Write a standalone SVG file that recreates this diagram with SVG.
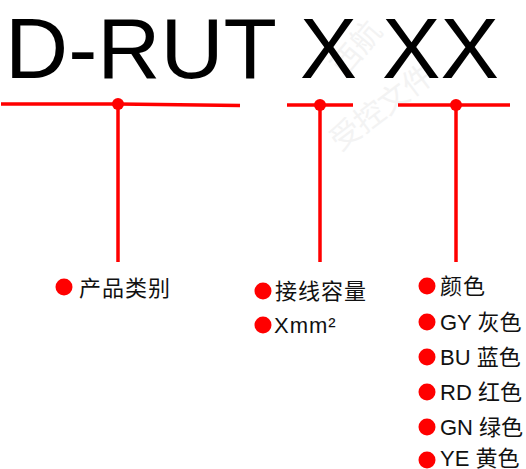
<svg xmlns="http://www.w3.org/2000/svg" width="526" height="469" viewBox="0 0 526 469">
<style>
.hd{font-family:"Liberation Sans",Arial,sans-serif;font-size:86px;fill:#000}
.lb{font-family:"Liberation Sans","Noto Sans CJK SC",sans-serif;font-size:22px;fill:#111}
.wm{font-family:"Noto Sans CJK SC",sans-serif;font-size:30px;fill:#f3f3f3}
.ln{stroke:#ff0000;stroke-width:3.5;fill:none}
.dot{fill:#ff0000}
</style>
<rect width="526" height="469" fill="#fff"/>
<g id="watermark">
<text class="wm" transform="translate(345,78) rotate(-50)">西航</text>
<text class="wm" transform="translate(340,152) rotate(-37)">受控文件</text>
</g>
<g id="title">
<text class="hd" x="5" y="78" textLength="272" lengthAdjust="spacingAndGlyphs">D-RUT</text>
<text class="hd" x="300" y="78" textLength="57" lengthAdjust="spacingAndGlyphs">X</text>
<text class="hd" x="382" y="78" textLength="117" lengthAdjust="spacingAndGlyphs">XX</text>
</g>
<g id="connectors">
<path class="ln" d="M1,104 L118,104 L240,105.5"/>
<path class="ln" d="M118,104 V262"/>
<path class="ln" d="M287,105 H353"/>
<path class="ln" d="M320,105 V262"/>
<path class="ln" d="M398,105 H510"/>
<path class="ln" d="M456,105 V262"/>
<circle class="dot" cx="118" cy="104" r="6"/>
<circle class="dot" cx="320" cy="105" r="6"/>
<circle class="dot" cx="456" cy="105" r="6"/>
</g>
<g id="node-category">
<circle class="dot" cx="64" cy="287" r="8.5"/>
<text class="lb" x="79" y="296" letter-spacing="1">产品类别</text>
</g>
<g id="node-capacity">
<circle class="dot" cx="263" cy="291" r="8.5"/>
<text class="lb" x="275" y="299" letter-spacing="1">接线容量</text>
<circle class="dot" cx="263" cy="325" r="8.5"/>
<text class="lb" x="274" y="333" letter-spacing="1">Xmm²</text>
</g>
<g id="node-color">
<circle class="dot" cx="427" cy="286" r="8.5"/>
<text class="lb" x="440" y="294" letter-spacing="1">颜色</text>
<circle class="dot" cx="427" cy="322" r="8.5"/>
<text class="lb" x="440" y="330">GY 灰色</text>
<circle class="dot" cx="427" cy="357" r="8.5"/>
<text class="lb" x="440" y="365">BU 蓝色</text>
<circle class="dot" cx="427" cy="392" r="8.5"/>
<text class="lb" x="440" y="400">RD 红色</text>
<circle class="dot" cx="427" cy="427" r="8.5"/>
<text class="lb" x="440" y="435">GN 绿色</text>
<circle class="dot" cx="427" cy="460" r="8.5"/>
<text class="lb" x="440" y="466">YE 黄色</text>
</g>
</svg>
